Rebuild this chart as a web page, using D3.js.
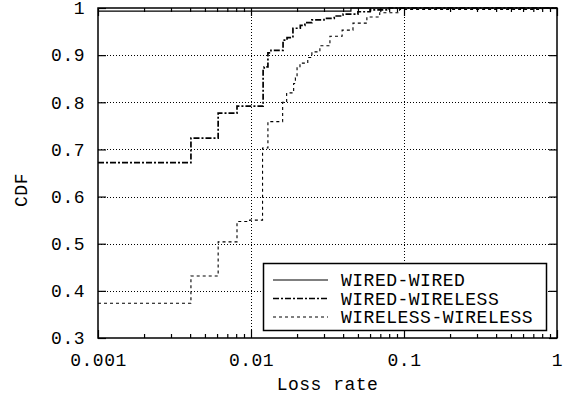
<!DOCTYPE html>
<html>
<head>
<meta charset="utf-8">
<script src="https://cdn.jsdelivr.net/npm/d3@7"></script>
<style>
  body { margin: 0; background: #fff; }
  svg text { font-family: "Courier New", "Liberation Mono", monospace; font-size: 18px; letter-spacing: 0.5px; fill: #000; }
</style>
</head>
<body>
<svg id="chart" width="572" height="401"></svg>
<script>
// series values, [loss rate, cdf]
var wiredWired = [[0.001, 0.9935], [0.045, 1.0], [1, 1.0]];
var wiredWireless = [[0.001, 0.672], [0.00405, 0.724], [0.0061, 0.777], [0.0081, 0.792],
  [0.012, 0.87], [0.0122, 0.875], [0.0129, 0.905], [0.0135, 0.91], [0.0162, 0.932],
  [0.0172, 0.937], [0.0188, 0.957], [0.021, 0.963], [0.0225, 0.969], [0.025, 0.975],
  [0.03, 0.978], [0.035, 0.983], [0.04, 0.987], [0.05, 0.992], [0.06, 0.996], [0.08, 1.0], [1, 1.0]];
var wirelessWireless = [[0.001, 0.3736], [0.00405, 0.4315], [0.0061, 0.504], [0.0081, 0.547],
  [0.0098, 0.55], [0.0119, 0.703], [0.0129, 0.759], [0.0161, 0.80], [0.0171, 0.82],
  [0.019, 0.84], [0.0195, 0.852], [0.02, 0.873], [0.0209, 0.883], [0.0235, 0.895],
  [0.025, 0.907], [0.0282, 0.92], [0.0328, 0.94], [0.0394, 0.953], [0.0464, 0.968],
  [0.0572, 0.981], [0.0694, 0.99], [0.0935, 0.997], [0.8, 1.0], [1, 1.0]];

var seriesNames = ["WIRED-WIRED", "WIRED-WIRELESS", "WIRELESS-WIRELESS"];
var xMajor = [0.001, 0.01, 0.1, 1];
var xLabels = ["0.001", "0.01", "0.1", "1"];
var yMajor = [0.3, 0.4, 0.5, 0.6, 0.7, 0.8, 0.9, 1];
var yLabels = ["0.3", "0.4", "0.5", "0.6", "0.7", "0.8", "0.9", "1"];

var svg = d3.select("#chart");
var pLeft = 98, pRight = 557, pTop = 8, pBottom = 338;

var x = d3.scaleLog().domain([0.001, 1]).range([pLeft, pRight]);
var y = d3.scaleLinear().domain([0.3, 1]).range([pBottom, pTop]);

// minor ticks 2..9 for each decade
var xMinor = [];
[0.001, 0.01, 0.1].forEach(function(d) {
  for (var i = 2; i < 10; i++) xMinor.push(d * i);
});

// grid (dotted), inner majors only
var grid = svg.append("g").attr("stroke", "#000").attr("stroke-width", 1).attr("stroke-dasharray", "1,2");
grid.selectAll(".gx").data(xMajor.slice(1, -1)).enter().append("line")
  .attr("x1", function(d) { return Math.round(x(d)) + 0.5; })
  .attr("x2", function(d) { return Math.round(x(d)) + 0.5; })
  .attr("y1", pTop).attr("y2", pBottom);
grid.selectAll(".gy").data(yMajor.slice(1, -1)).enter().append("line")
  .attr("y1", function(d) { return Math.round(y(d)) + 0.5; })
  .attr("y2", function(d) { return Math.round(y(d)) + 0.5; })
  .attr("x1", pLeft).attr("x2", pRight);

function fmt(vals, labels) {
  return function(d) { return labels[vals.indexOf(d)]; };
}

// axes with inward ticks
svg.append("g").attr("transform", "translate(0," + pBottom + ")")
  .call(d3.axisBottom(x).tickValues(xMajor).tickFormat(fmt(xMajor, xLabels)).tickSizeInner(-8).tickSizeOuter(0).tickPadding(15));
svg.append("g").attr("transform", "translate(0," + pBottom + ")")
  .call(d3.axisBottom(x).tickValues(xMinor).tickFormat("").tickSizeInner(-4).tickSizeOuter(0));
svg.append("g").attr("transform", "translate(0," + pTop + ")")
  .call(d3.axisTop(x).tickValues(xMajor).tickFormat("").tickSizeInner(-8).tickSizeOuter(0));
svg.append("g").attr("transform", "translate(0," + pTop + ")")
  .call(d3.axisTop(x).tickValues(xMinor).tickFormat("").tickSizeInner(-4).tickSizeOuter(0));
svg.append("g").attr("transform", "translate(" + pLeft + ",0)")
  .call(d3.axisLeft(y).tickValues(yMajor).tickFormat(fmt(yMajor, yLabels)).tickSizeInner(-8).tickSizeOuter(0).tickPadding(13));
svg.append("g").attr("transform", "translate(" + pRight + ",0)")
  .call(d3.axisRight(y).tickValues(yMajor).tickFormat("").tickSizeInner(-8).tickSizeOuter(0));

svg.selectAll(".domain").remove();
svg.selectAll(".tick line").attr("stroke", "#000").attr("stroke-width", 1.2);
svg.selectAll(".tick text").attr("font-family", null).attr("font-size", null).attr("fill", "#000");

// frame
svg.append("rect").attr("x", pLeft).attr("y", pTop).attr("width", pRight - pLeft).attr("height", pBottom - pTop)
  .attr("fill", "none").attr("stroke", "#000").attr("stroke-width", 1.5);

// series
var line = d3.line().x(function(d) { return x(d[0]); }).y(function(d) { return y(d[1]); }).curve(d3.curveStepAfter);
var styles = [
  { data: wiredWired, width: 1.2, dash: null },
  { data: wiredWireless, width: 1.7, dash: "6,2,2,2" },
  { data: wirelessWireless, width: 1.1, dash: "3,3" }
];
styles.forEach(function(s) {
  svg.append("path").datum(s.data).attr("d", line)
    .attr("fill", "none").attr("stroke", "#000")
    .attr("stroke-width", s.width).attr("stroke-dasharray", s.dash);
});

// legend
var lg = svg.append("g");
lg.append("rect").attr("x", 263.5).attr("y", 263.5).attr("width", 283).attr("height", 67)
  .attr("fill", "#fff").attr("stroke", "#000").attr("stroke-width", 1.5);
seriesNames.forEach(function(name, i) {
  var yy = 280 + i * 18.5;
  lg.append("line").attr("x1", 273).attr("x2", 328).attr("y1", yy).attr("y2", yy)
    .attr("stroke", "#000").attr("stroke-width", styles[i].width).attr("stroke-dasharray", styles[i].dash);
  lg.append("text").attr("x", 341).attr("y", yy).attr("dy", "0.35em").text(name);
});

// axis titles
svg.append("text").attr("x", (pLeft + pRight) / 2).attr("y", 390).attr("text-anchor", "middle").text("Loss rate");
svg.append("text").attr("transform", "translate(27,190) rotate(-90)").attr("text-anchor", "middle").text("CDF");
</script>
</body>
</html>
